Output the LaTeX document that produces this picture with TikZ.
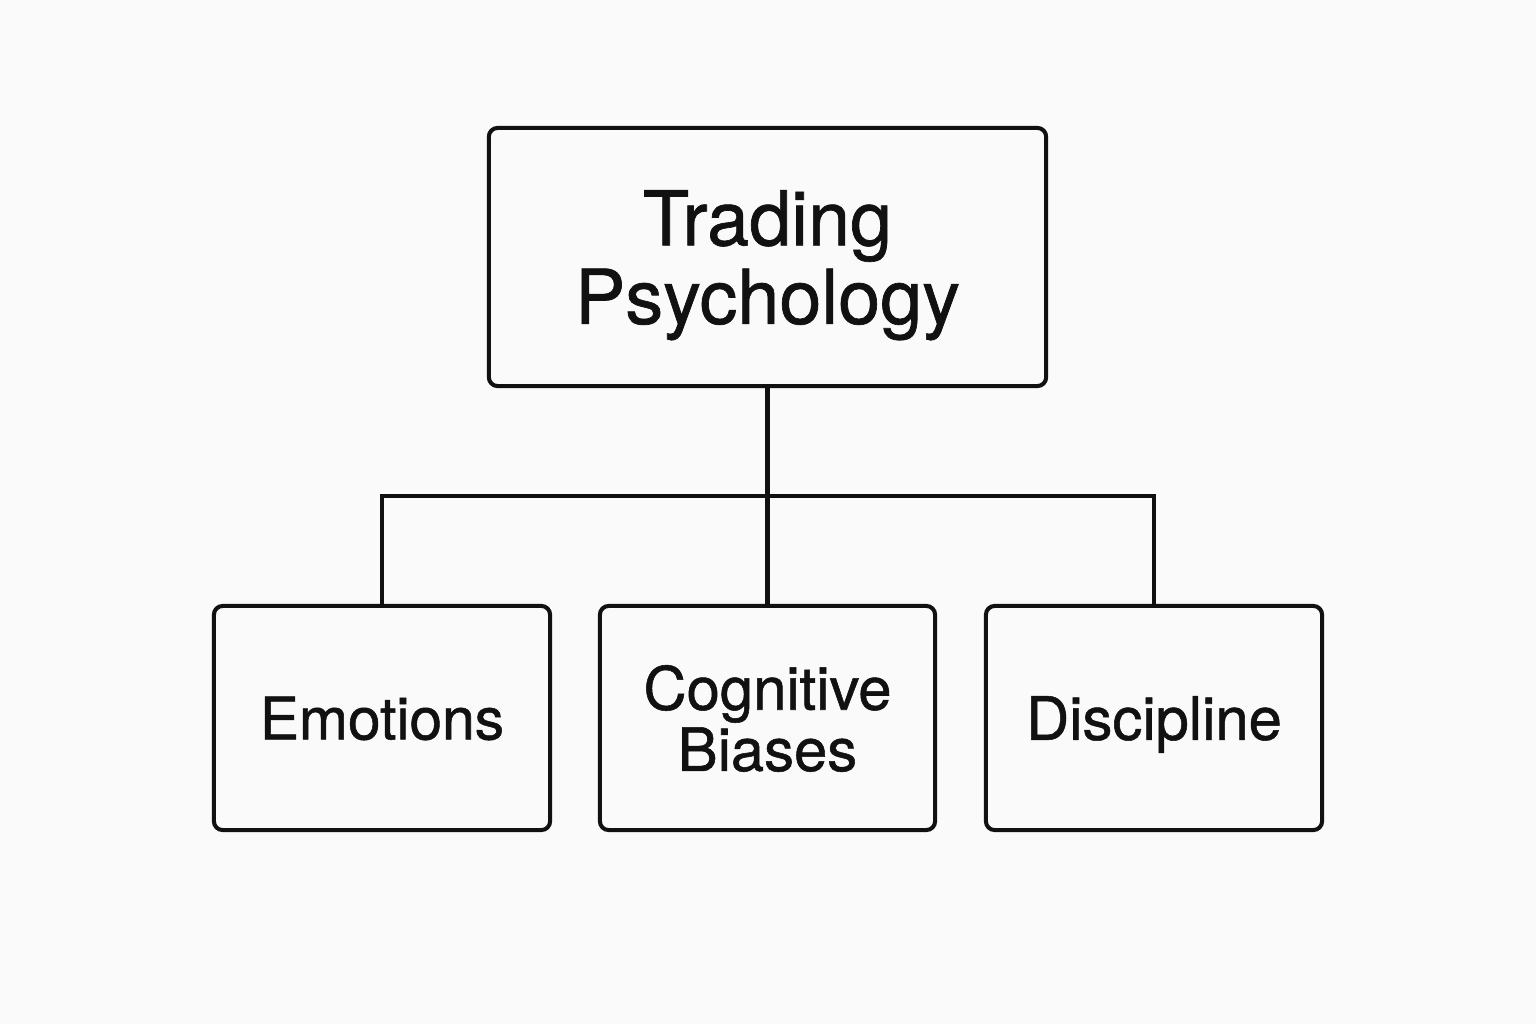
\documentclass[tikz,border=0pt]{standalone}
\usepackage{fontspec}
\setmainfont{TeX Gyre Heros}[FakeBold=0.9]
\definecolor{paper}{HTML}{FAFAFA}
\definecolor{ink}{HTML}{111111}
\tikzset{
    box/.style={draw=ink,line width=1.15pt,rounded corners=2.5pt,align=center,text=ink,inner sep=0pt,text depth=0pt},
    link/.style={draw=ink,line width=1.15pt}
}

\begin{document}
\begin{tikzpicture}[x=0.01cm,y=-0.01cm]
    \fill[paper] (0,0) rectangle (1536,1024);
    \useasboundingbox (0,0) rectangle (1536,1024);
    % top ====================================================
    \node[box,minimum width=5.57cm,minimum height=2.58cm,font=\fontsize{21.5}{22.3}\selectfont] (TP) at (767.5,257) {Trading\\Psychology};
    % children ===============================================
    \node[box,minimum width=3.36cm,minimum height=2.24cm,font=\fontsize{16.7}{17.4}\selectfont] (EM) at (382,718) {Emotions};
    \node[box,minimum width=3.35cm,minimum height=2.24cm,font=\fontsize{17}{17.4}\selectfont] (CB) at (767.5,718) {Cognitive\\Biases};
    \node[box,minimum width=3.36cm,minimum height=2.24cm,font=\fontsize{17}{17.4}\selectfont] (DI) at (1154,718) {Discipline};
    % links ==================================================
    \coordinate (J) at (767.5,496);
    \draw[link] (TP.south) -- (CB.north);
    \draw[link] (EM.north) |- (J) -| (DI.north);
\end{tikzpicture}
\end{document}
